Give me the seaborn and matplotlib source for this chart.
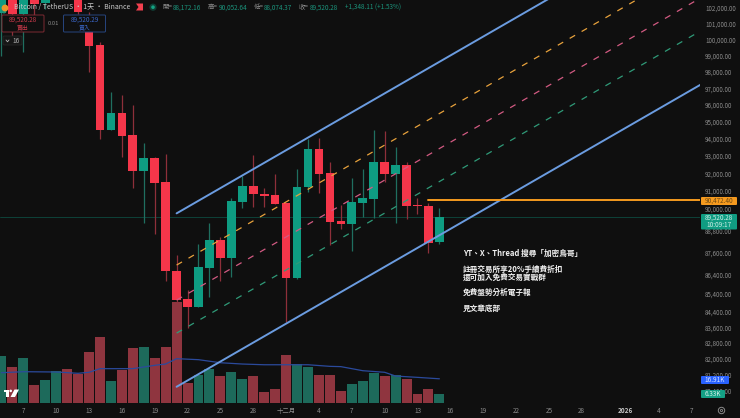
import matplotlib
matplotlib.use("Agg")
import matplotlib.pyplot as plt
from matplotlib.patches import Rectangle, FancyBboxPatch, Circle, Polygon
from matplotlib.ticker import FixedLocator, FixedFormatter, NullLocator
import pandas as pd
import seaborn as sns

# ---- data ----
days = list(range(-2, 39))   # 0 = 7 Nov
opens = [101651, 103000, 101588, 103300, 102285, 103500, 105000, 103000, 101336, 99631,
         94536, 95540, 94207, 92156, 92904, 91493, 86599, 85088, 84666, 86745,
         88269, 87286, 90397, 91300, 90848, 90773, 90307, 86223, 91209, 93391,
         92025, 89301, 89152, 90324, 90565, 92656, 91950, 92466, 90211, 90171, 88172.16]
highs = [103500, 103600, 103500, 103900, 104300, 105500, 105600, 103400, 101716, 99854,
         96779, 96599, 96000, 93775, 92961, 93100, 87449, 85566, 88050, 89207,
         88450, 90604, 91852, 93061, 91168, 91967, 90340, 92254, 93991, 94070,
         92656, 90211, 91755, 92236, 94519, 94460, 93506, 92673, 90588, 90307, 90052.64]
lows = [98970, 100209, 99216, 101500, 101900, 103200, 103000, 101600, 97989, 93973,
        94518, 92961, 91188, 89224, 88582, 86062, 84930, 83568, 84666, 85211,
        86062, 86275, 90060, 90116, 90100, 90285, 83897, 86169, 90960, 90870,
        87995, 88875, 87683, 89557, 89468, 91527, 89224, 89446, 89707, 87541, 88074.37]
closes = [103000, 101588, 103300, 102222, 104000, 105000, 103400, 101716, 99605, 94536,
          95540, 94184, 92156, 92904, 91471, 86567, 85035, 84666, 86799, 88269,
          87286, 90436, 91300, 90815, 90716, 90285, 86223, 91243, 93391, 91985,
          89262, 89135, 90363, 90605, 92656, 91950, 92466, 90171, 90155, 88088, 89520.28]
volumes = [32.6, 25.3, 31.1, 12.4, 16.1, 22.1, 23.5, 20.2, 35.2, 45.7,
           15.2, 23.2, 38.0, 38.6, 31.3, 38.6, 69.7, 14.0, 19.5, 23.7,
           19.0, 21.4, 16.6, 18.6, 7.6, 9.7, 33.5, 27.3, 25.0, 19.5,
           19.5, 8.7, 13.1, 15.4, 20.9, 18.6, 19.3, 16.6, 6.2, 9.7, 6.33]
ma_days = [-2, 0, 3, 5, 6, 7, 10, 12, 13, 14, 16, 18, 20, 22, 25, 26, 28, 29, 31, 33, 34, 36, 38]
ma_vals = [21.1, 21.8, 21.6, 20.7, 21.4, 23.9, 23.9, 26.2, 27.1, 30.8, 30.1, 28.0, 27.1,
           26.6, 26.6, 26.6, 25.5, 25.3, 22.5, 21.4, 18.8, 17.9, 16.91]
channel_days = [14, 62]
upper_line = [89746, 108356]
orange_line = [86907, 104928]
mid_line = [85035, 102668]
green_line = [83308, 100583]
lower_line = [80572, 97279]
level_days = [37, 62]
level_vals = [90472.40, 90472.40]
last_price = 89520.28

price_ticks = [102000, 101000, 100000, 99000, 98000, 97000, 96000, 95000, 94000, 93000,
               92000, 91000, 90000, 88800, 87600, 86400, 85400, 84400, 83600, 82800,
               82000, 81200, 80400]
date_ticks = [0, 3, 6, 9, 12, 15, 18, 21, 24, 27, 30, 33, 36, 39, 42, 45, 48, 51, 55, 58, 61]
date_labels = ['7', '10', '13', '16', '19', '22', '25', '28', '十二月', '4', '7', '10', '13',
               '16', '19', '22', '25', '28', '2026', '4', '7']
note_lines = ['YT、X、Thread 搜尋「加密鳥哥」', '註冊交易所享20%手續費折扣', '還可加入免費交易實戰群',
              '免費盤勢分析電子報', '見文章底部']

# ---- style ----
BG = '#0f0f0f'
RED, GREEN = '#f5364a', '#0e9c82'
RED_W, GREEN_W = '#8e2f3a', '#1f6f60'
VOL_RED, VOL_GREEN = '#8f353f', '#1d6a5b'
GREY = '#8c8c8c'
sns.set_theme(style='dark', rc={'figure.facecolor': BG, 'axes.facecolor': BG, 'savefig.facecolor': BG})
FONT = ['Noto Sans CJK TC', 'DejaVu Sans']
plt.rcParams['font.family'] = FONT

W, H, BOTTOM, RIGHT = 740, 418, 403.3, 700
fig = plt.figure(figsize=(W / 100, H / 100), dpi=100)
rect = [0, (H - BOTTOM) / H, RIGHT / W, BOTTOM / H]
ax_vol = fig.add_axes(rect, zorder=1)
ax = fig.add_axes(rect, zorder=2)
ax.patch.set_alpha(0)
XLIM = (-2.128, 61.8)

# volume pane
df = pd.DataFrame({'day': days, 'vol': volumes,
                   'dir': ['up' if c >= o else 'down' for o, c in zip(opens, closes)]})
sns.barplot(data=df, x='day', y='vol', hue='dir', palette={'up': VOL_GREEN, 'down': VOL_RED},
            native_scale=True, dodge=False, width=0.91, saturation=1, legend=False,
            linewidth=0, ax=ax_vol)
sns.lineplot(x=ma_days, y=ma_vals, color='#2b4a9c', linewidth=0.9, estimator=None, ax=ax_vol)
ax_vol.set_xlim(*XLIM)
ax_vol.set_ylim(0, 278.3)
ax_vol.axis('off')

# price pane
ax.set_yscale('log')
for d, o, h, l, c in zip(days, opens, highs, lows, closes):
    up = c >= o
    ax.vlines(d, l, h, color=GREEN_W if up else RED_W, linewidth=0.9, zorder=2)
    ax.bar(d, abs(c - o), bottom=min(o, c), width=0.79, color=GREEN if up else RED, linewidth=0, zorder=3)

ax.axhline(last_price, color='#0d4a3f', linewidth=0.6, zorder=1)
for vals, col, lw, ls in [(upper_line, '#6b9ce0', 1.4, '-'),
                          (orange_line, '#e8a23c', 0.9, (0, (5, 6))),
                          (mid_line, '#d25a82', 0.9, (0, (5, 6))),
                          (green_line, '#2f9a78', 0.9, (0, (5, 6))),
                          (lower_line, '#6b9ce0', 1.4, '-')]:
    sns.lineplot(x=channel_days, y=vals, color=col, linewidth=lw, linestyle=ls,
                 estimator=None, ax=ax, zorder=4)
sns.lineplot(x=level_days, y=level_vals, color='#f59a1f', linewidth=1.4, estimator=None, ax=ax, zorder=4)

ax.set_xlim(*XLIM)
ax.set_ylim(79749, 102478)
ax.set_xlabel('')
ax.set_ylabel('')
ax.grid(False)
for s in ax.spines.values():
    s.set_visible(False)
ax.yaxis.tick_right()
ax.yaxis.set_major_locator(FixedLocator(price_ticks))
ax.yaxis.set_major_formatter(FixedFormatter([f'{p:,.2f}' for p in price_ticks]))
ax.yaxis.set_minor_locator(NullLocator())
ax.tick_params(axis='y', which='both', length=0, pad=3.6, labelsize=4.5, labelcolor=GREY)
ax.set_xticks(date_ticks)
ax.set_xticklabels(date_labels)
ax.tick_params(axis='x', length=0, pad=2.6, labelsize=4.6, labelcolor=GREY)
for t in ax.get_xticklabels():
    if t.get_text() == '2026':
        t.set_fontweight('bold')
        t.set_color('#c8c8c8')

# ---- overlay in pixels ----
ov = fig.add_axes([0, 0, 1, 1], zorder=5)
ov.set_xlim(0, W)
ov.set_ylim(H, 0)
ov.axis('off')
ov.patch.set_alpha(0)


def txt(x, y, s, color='#d0d0d0', size=4.6, ha='left', weight='normal'):
    ov.text(x, y, s, color=color, fontsize=size, ha=ha, va='center', fontweight=weight, family=FONT)


def badge(x0, y0, x1, y1, fc):
    ov.add_patch(FancyBboxPatch((x0 + 1, y0 + 1), x1 - x0 - 2, y1 - y0 - 2,
                                boxstyle='round,pad=1', fc=fc, ec='none'))


# header
ov.add_patch(Circle((5, 8), 3.4, fc='#e8952a', ec='none'))
ov.add_patch(Circle((4, 11), 2.5, fc='#1b8f74', ec='none', zorder=0.5))
txt(14, 7.2, 'Bitcoin / TetherUS · 1天 · Binance', color='#c9c9c9', size=5.0)
ov.add_patch(Polygon([(136, 3.5), (143, 3.5), (143, 10.5), (136, 10.5), (138.5, 7)], fc='#f2404f', ec='none'))
ov.add_patch(Circle((153, 7.2), 3.6, fc='#0f3d33', ec='none'))
ov.add_patch(Circle((153, 7.2), 1.8, fc='#14a383', ec='none'))
VAL = '#1b947c'
for x, s, col in [(162, '開=', '#8e8e8e'), (172.5, '88,172.16', VAL),
                  (208, '高=', '#8e8e8e'), (218.5, '90,052.64', VAL),
                  (253.5, '低=', '#8e8e8e'), (264, '88,074.37', VAL),
                  (299, '收=', '#8e8e8e'), (309.5, '89,520.28', VAL),
                  (345, '+1,348.11 (+1.53%)', VAL)]:
    txt(x, 7.2, s, color=col, size=4.6)

# order panel
for x0, x1, ec, c1, s1, s2 in [(2, 44, '#7e2a33', '#c9394a', '89,520.28', '賣出'),
                               (63.5, 105.5, '#27457f', '#3a66c8', '89,520.29', '買入')]:
    ov.add_patch(FancyBboxPatch((x0 + 1, 16), x1 - x0 - 2, 15, boxstyle='round,pad=1',
                                fc=BG, ec=ec, linewidth=0.7))
    txt((x0 + x1) / 2, 20, s1, color=c1, size=4.6, ha='center')
    txt((x0 + x1) / 2, 27.5, s2, color=c1, size=4.2, ha='center')
txt(53.5, 23.5, '0.01', color='#8a8a8a', size=4.2, ha='center')
ov.add_patch(FancyBboxPatch((4, 37), 17, 7, boxstyle='round,pad=1', fc='#161616', ec='#2a2a2a', linewidth=0.5))
ov.plot([6, 7.5, 9], [40, 41.8, 40], color='#b0b0b0', linewidth=0.6)
txt(12, 40.7, '16', color='#b0b0b0', size=4.6)

# notes
for y, s in zip([253.7, 269.5, 277.7, 292.7, 308.7], note_lines):
    txt(463, y, s, color='#f2f2f2', size=5.5, weight='bold')

# right-hand badges
badge(701, 197, 737, 205, '#f59a1f')
txt(719, 201, '90,472.40', color='#6e4a12', size=4.6, ha='center')
badge(701, 214, 737, 229.5, '#109c82')
txt(719, 218, '89,520.28', color='#cdeee6', size=4.6, ha='center')
txt(719, 225, '10:09:17', color='#cdeee6', size=4.6, ha='center')
badge(701, 376, 729, 384, '#2962ff')
txt(715, 380, '16.91K', color='#d8e4ff', size=4.6, ha='center')
badge(701, 390, 725, 398, '#14a085')
txt(713, 394, '6.33K', color='#d4f2ea', size=4.6, ha='center')

# logo and gear
ov.add_patch(Rectangle((3.5, 389.5), 5.2, 2.2, fc='white', ec='none'))
ov.add_patch(Rectangle((6, 389.5), 2.7, 7.5, fc='white', ec='none'))
ov.add_patch(Circle((10.7, 390.9), 1.3, fc='white', ec='none'))
ov.add_patch(Polygon([(10.5, 397), (14.5, 389.5), (19, 389.5), (15, 397)], fc='white', ec='none'))
ov.add_patch(Circle((721.5, 410.5), 3.2, fc='none', ec='#8a8a8a', linewidth=0.7))
ov.add_patch(Circle((721.5, 410.5), 1.1, fc='none', ec='#8a8a8a', linewidth=0.6))

fig.savefig('out.png', dpi=100, facecolor=BG)
